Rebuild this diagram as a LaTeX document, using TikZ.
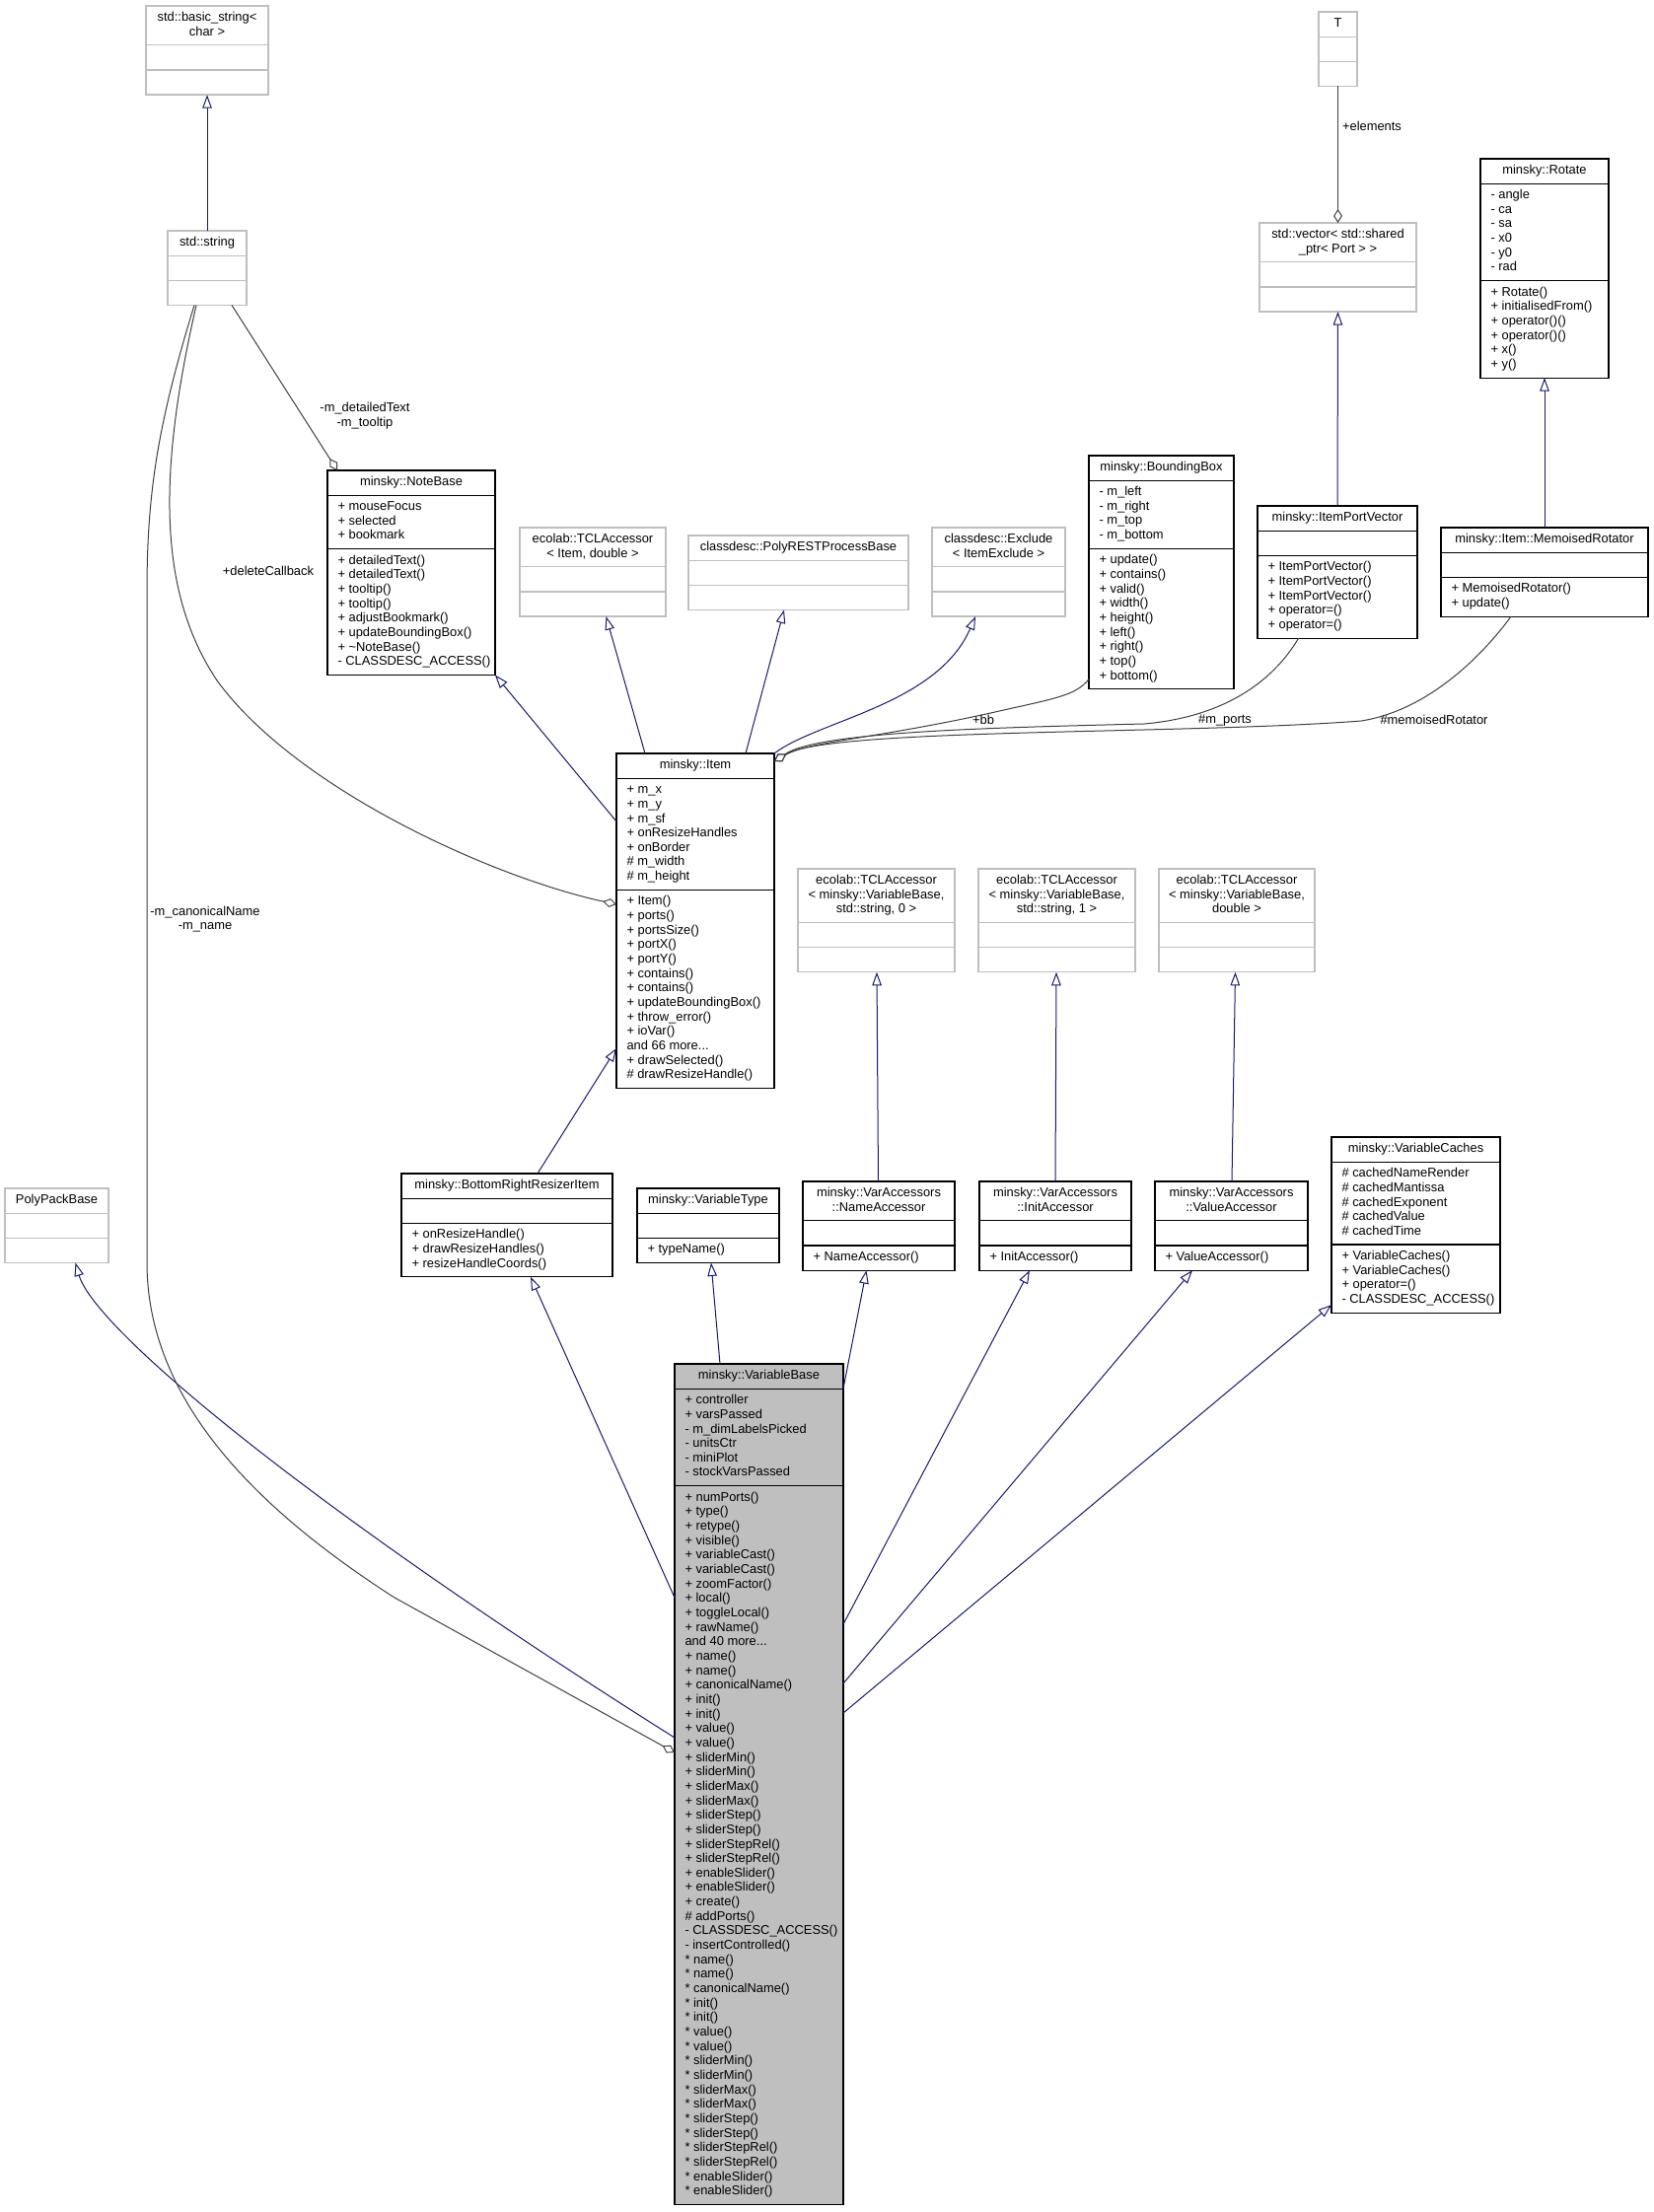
\documentclass[tikz,border=0pt]{standalone}
\usepackage{fontspec}
\setmainfont{Liberation Sans}
\usetikzlibrary{arrows.meta,calc}
\definecolor{inhcol}{HTML}{191970}
\definecolor{aggcol}{HTML}{404040}
\definecolor{graybd}{HTML}{BFBFBF}
\definecolor{vbfill}{HTML}{BFBFBF}
\newcommand\umlfont{\fontsize{12.9}{14.66}\selectfont}
\tikzset{
 txt/.style={font=\umlfont, inner sep=0pt, outer sep=0pt, text=black},
 blackbox/.style={draw=black, line width=1.1pt, fill=white},
 graybox/.style={draw=graybd, line width=1.3pt, fill=white},
 focusbox/.style={draw=black, line width=1.1pt, fill=vbfill},
 inh/.style={draw=inhcol, line width=1pt, -{Triangle[length=13.5pt, width=9.5pt, fill=white]}},
 agg/.style={draw=aggcol, line width=1pt, -{Diamond[length=14pt, width=9pt, fill=white]}},
 lbl/.style={txt, align=center},
}
\newcommand\umlclass[9]{%
  \def\uName{#1}\tikzset{cur/.style={#2}}\def\uX{#3}\def\uY{#4}\def\uW{#5}%
  \def\uNt{#6}\def\uNa{#7}\def\uNo{#8}\def\uTitle{#9}%
  \umlclassrest}
\newcommand\umlclassrest[2]{%
  \pgfmathsetmacro\uHT{\uNt*14.66+10.5}%
  \pgfmathsetmacro\uHA{max(\uNa,1)*14.66+10.5}%
  \pgfmathsetmacro\uHO{max(\uNo,1)*14.66+10.5}%
  \pgfmathsetmacro\uYA{\uY+\uHT}%
  \pgfmathsetmacro\uYO{\uYA+\uHA}%
  \pgfmathsetmacro\uH{\uHT+\uHA+\uHO}%
  \node[cur, anchor=north west, minimum width=\uW pt, minimum height=\uH pt, inner sep=0pt, outer sep=0pt] (\uName) at (\uX,\uY) {};
  \draw[cur, fill=none] (\uX,\uYA) -- ++(\uW,0) (\uX,\uYO) -- ++(\uW,0);
  \node[txt, anchor=north, align=center] (\uName-t) at ({\uX+\uW/2},{\uY+5.25}) {\strut\uTitle};
  \node[txt, anchor=north west, align=left] (\uName-a) at ({\uX+10.5},{\uYA+5.25}) {\strut#1};
  \node[txt, anchor=north west, align=left] (\uName-o) at ({\uX+10.5},{\uYO+5.25}) {\strut#2};
}
\begin{document}
\begin{tikzpicture}[x=1pt,y=-1pt]
\fill[white] (0,0) rectangle (1677,2243);
\useasboundingbox (0,0) rectangle (1677,2243);

\umlclass{bstr}{graybox}{148}{6}{124}{2}{0}{0}{std::basic\_string<\\char >}{}{}
\umlclass{str}{graybox}{170}{234}{80}{1}{0}{0}{std::string}{}{}
\umlclass{T}{graybox}{1337}{12}{39}{1}{0}{0}{T}{}{}
\umlclass{vec}{graybox}{1277}{226}{159}{2}{0}{0}{std::vector< std::shared\\\_ptr< Port > >}{}{}
\umlclass{rot}{blackbox}{1501}{161}{130}{1}{6}{6}{minsky::Rotate}{- angle\\- ca\\- sa\\- x0\\- y0\\- rad}{+ Rotate()\\+ initialisedFrom()\\+ operator()()\\+ operator()()\\+ x()\\+ y()}
\umlclass{ipv}{blackbox}{1275}{513}{162}{1}{0}{5}{minsky::ItemPortVector}{}{+ ItemPortVector()\\+ ItemPortVector()\\+ ItemPortVector()\\+ operator=()\\+ operator=()}
\umlclass{memo}{blackbox}{1461}{535}{210}{1}{0}{2}{minsky::Item::MemoisedRotator}{}{+ MemoisedRotator()\\+ update()}
\umlclass{bbox}{blackbox}{1104}{462}{147}{1}{4}{9}{minsky::BoundingBox}{- m\_left\\- m\_right\\- m\_top\\- m\_bottom}{+ update()\\+ contains()\\+ valid()\\+ width()\\+ height()\\+ left()\\+ right()\\+ top()\\+ bottom()}
\umlclass{excl}{graybox}{945}{535}{135}{2}{0}{0}{classdesc::Exclude\\< ItemExclude >}{}{}
\umlclass{poly}{graybox}{698}{543}{223}{1}{0}{0}{classdesc::PolyRESTProcessBase}{}{}
\umlclass{tclitem}{graybox}{527}{535}{148}{2}{0}{0}{ecolab::TCLAccessor\\< Item, double >}{}{}
\umlclass{note}{blackbox}{332}{477}{170}{1}{3}{8}{minsky::NoteBase}{+ mouseFocus\\+ selected\\+ bookmark}{+ detailedText()\\+ detailedText()\\+ tooltip()\\+ tooltip()\\+ adjustBookmark()\\+ updateBoundingBox()\\+ \textasciitilde NoteBase()\\- CLASSDESC\_ACCESS()}
\umlclass{item}{blackbox}{625}{764}{160}{1}{7}{13}{minsky::Item}{+ m\_x\\+ m\_y\\+ m\_sf\\+ onResizeHandles\\+ onBorder\\\# m\_width\\\# m\_height}{+ Item()\\+ ports()\\+ portsSize()\\+ portX()\\+ portY()\\+ contains()\\+ contains()\\+ updateBoundingBox()\\+ throw\_error()\\+ ioVar()\\and 66 more...\\+ drawSelected()\\\# drawResizeHandle()}
\umlclass{tcl0}{graybox}{809}{881}{159}{3}{0}{0}{ecolab::TCLAccessor\\< minsky::VariableBase,\\std::string, 0 >}{}{}
\umlclass{tcl1}{graybox}{992}{881}{159}{3}{0}{0}{ecolab::TCLAccessor\\< minsky::VariableBase,\\std::string, 1 >}{}{}
\umlclass{tcld}{graybox}{1175}{881}{158}{3}{0}{0}{ecolab::TCLAccessor\\< minsky::VariableBase,\\double >}{}{}
\umlclass{polypack}{graybox}{5}{1205}{105}{1}{0}{0}{PolyPackBase}{}{}
\umlclass{brri}{blackbox}{407}{1190}{214}{1}{0}{3}{minsky::BottomRightResizerItem}{}{+ onResizeHandle()\\+ drawResizeHandles()\\+ resizeHandleCoords()}
\umlclass{vtype}{blackbox}{646}{1205}{144}{1}{0}{1}{minsky::VariableType}{}{+ typeName()}
\umlclass{nameacc}{blackbox}{814}{1198}{154}{2}{0}{1}{minsky::VarAccessors\\::NameAccessor}{}{+ NameAccessor()}
\umlclass{initacc}{blackbox}{993}{1198}{154}{2}{0}{1}{minsky::VarAccessors\\::InitAccessor}{}{+ InitAccessor()}
\umlclass{valacc}{blackbox}{1171}{1198}{155}{2}{0}{1}{minsky::VarAccessors\\::ValueAccessor}{}{+ ValueAccessor()}
\umlclass{caches}{blackbox}{1350}{1153}{171}{1}{5}{4}{minsky::VariableCaches}{\# cachedNameRender\\\# cachedMantissa\\\# cachedExponent\\\# cachedValue\\\# cachedTime}{+ VariableCaches()\\+ VariableCaches()\\+ operator=()\\- CLASSDESC\_ACCESS()}
\umlclass{vb}{focusbox}{684}{1383}{171}{1}{6}{49}{minsky::VariableBase}{+ controller\\+ varsPassed\\- m\_dimLabelsPicked\\- unitsCtr\\- miniPlot\\- stockVarsPassed}{+ numPorts()\\+ type()\\+ retype()\\+ visible()\\+ variableCast()\\+ variableCast()\\+ zoomFactor()\\+ local()\\+ toggleLocal()\\+ rawName()\\and 40 more...\\+ name()\\+ name()\\+ canonicalName()\\+ init()\\+ init()\\+ value()\\+ value()\\+ sliderMin()\\+ sliderMin()\\+ sliderMax()\\+ sliderMax()\\+ sliderStep()\\+ sliderStep()\\+ sliderStepRel()\\+ sliderStepRel()\\+ enableSlider()\\+ enableSlider()\\+ create()\\\# addPorts()\\- CLASSDESC\_ACCESS()\\- insertControlled()\\{*} name()\\{*} name()\\{*} canonicalName()\\{*} init()\\{*} init()\\{*} value()\\{*} value()\\{*} sliderMin()\\{*} sliderMin()\\{*} sliderMax()\\{*} sliderMax()\\{*} sliderStep()\\{*} sliderStep()\\{*} sliderStepRel()\\{*} sliderStepRel()\\{*} enableSlider()\\{*} enableSlider()}

% inheritance
\draw[inh] (str.north) -- (bstr.south);
\draw[inh] (ipv.north) -- (vec.south);
\draw[inh] (memo.north) -- (rot.south);
\draw[inh] ($(item.north west)+(0,69)$) -- (note.south east);
\draw[inh] ($(item.north west)+(29,0)$) -- ($(tclitem.south west)+(87.5,0)$);
\draw[inh] ($(item.north west)+(131,0)$) -- ($(poly.south west)+(97,0)$);
\draw[inh] (item.north east) .. controls (830,730) and (950,715) .. ($(excl.south west)+(44,0)$);
\draw[inh] ($(nameacc.north west)+(76.5,0)$) -- ($(tcl0.south west)+(80,0)$);
\draw[inh] ($(initacc.north west)+(77,0)$) -- ($(tcl1.south west)+(79,0)$);
\draw[inh] ($(valacc.north west)+(78,0)$) -- ($(tcld.south west)+(77.5,0)$);
\draw[inh] ($(vb.north west)+(0,237)$) -- ($(brri.south west)+(131,0)$);
\draw[inh] ($(brri.north west)+(138,0)$) -- ($(item.north west)+(0,299)$);
\draw[inh] ($(vb.north west)+(46,0)$) -- ($(vtype.south west)+(75,0)$);
\draw[inh] ($(vb.north east)+(0,25)$) -- ($(nameacc.south west)+(64.5,0)$);
\draw[inh] ($(vb.north east)+(0,264)$) -- ($(initacc.south west)+(51,0)$);
\draw[inh] ($(vb.north east)+(0,324)$) -- ($(valacc.south west)+(38,0)$);
\draw[inh] ($(vb.north east)+(0,354)$) -- ($(caches.south west)+(0,-8)$);
\draw[inh] ($(vb.north west)+(0,379)$) .. controls (300,1520) and (95,1345) .. ($(polypack.south west)+(71.5,0)$);

% aggregation
\draw[agg] ($(str.south west)+(65,0)$) -- ($(note.north west)+(10,0)$);
\draw[agg] (T.south) -- (vec.north);
\draw[agg] ($(str.south west)+(29,0)$) .. controls (160,480) and (160,600) .. (220,690) .. controls (300,800) and (500,890) .. ($(item.north west)+(0,153)$);
\draw[agg] ($(str.south west)+(27,0)$) .. controls (160,430) and (149,500) .. (149,600) -- (149,1280) .. controls (149,1420) and (260,1530) .. (400,1620) -- ($(vb.north west)+(0,394)$);
\draw[agg] ($(bbox.south west)+(0,-10)$) .. controls (1090,706) and (1070,708) .. (1000,724) .. controls (880,750) and (820,752) .. ($(item.north east)+(0,8)$);
\draw[agg] ($(ipv.south west)+(41.6,0)$) .. controls (1290,692) and (1240,727) .. (1160,734) .. controls (1000,738) and (830,742) .. ($(item.north east)+(0,8)$);
\draw[agg] ($(memo.south west)+(71,0)$) .. controls (1505,662) and (1450,720) .. (1380,731) .. controls (1200,745) and (840,738) .. ($(item.north east)+(0,8)$);

% labels
\node[lbl] (l1) at (370,421.5) {-m\_detailedText\\-m\_tooltip};
\node[lbl] (l2) at (272,579) {+deleteCallback};
\node[lbl] (l3) at (208,932) {-m\_canonicalName\\-m\_name};
\node[lbl] (l4) at (1391,128) {+elements};
\node[lbl] (l5) at (997,730) {+bb};
\node[lbl] (l6) at (1242,730) {\#m\_ports};
\node[lbl] (l7) at (1454,730) {\#memoisedRotator};
\end{tikzpicture}
\end{document}
